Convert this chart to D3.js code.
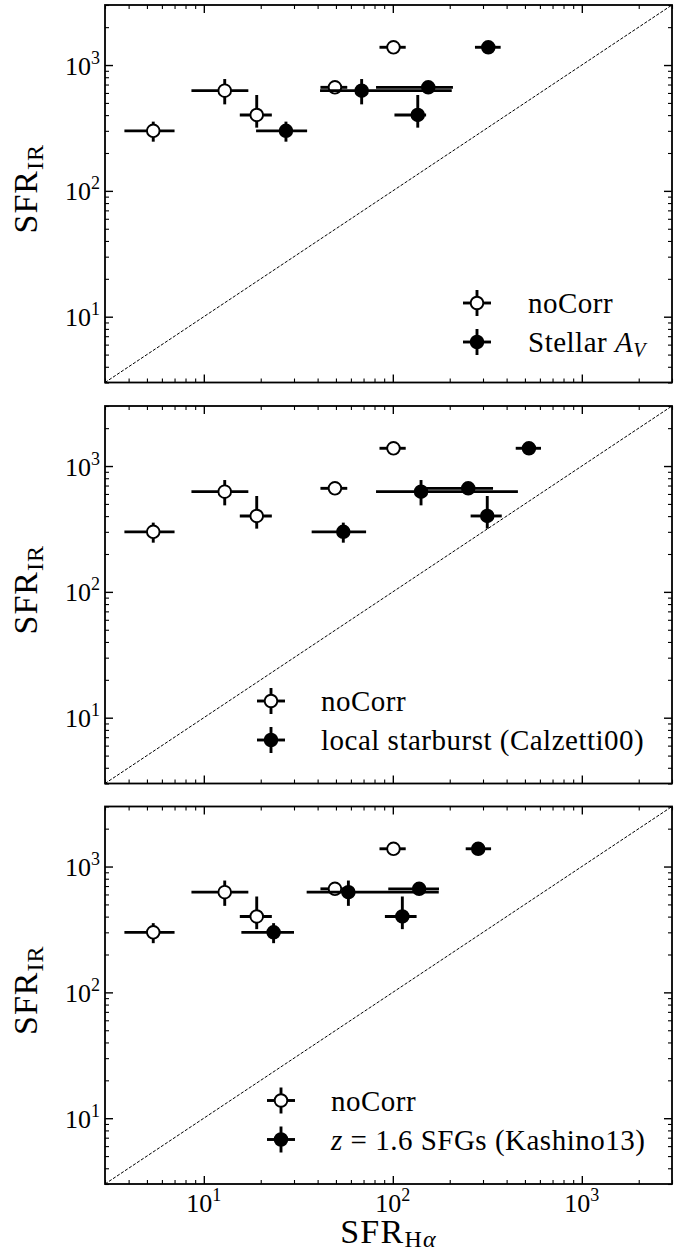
<!DOCTYPE html>
<html>
<head>
<meta charset="utf-8">
<script src="https://cdn.jsdelivr.net/npm/d3@7"></script>
<style>
  body { margin: 0; background: #fff; }
  svg text { font-family: "Liberation Serif", "Times New Roman", serif; fill: #000; }
</style>
</head>
<body>
<svg id="chart" width="692" height="1252"></svg>
<script>
// ---- data ----
var xTicks = [10, 100, 1000];
var yTicks = [10, 100, 1000];
var tickExp = {10: "1", 100: "2", 1000: "3"};

// SFR_IR of the five objects (shared by every panel)
var irVal = [300, 626, 401, 665, 1384];
var irLo  = [246, 487, 318, 615, 1330];
var irHi  = [355, 774, 578, 715, 1440];

// SFR_Halpha, no correction
var noCorrX  = [5.4, 12.9, 19.05, 49.4, 100.8];
var noCorrLo = [3.8, 8.6, 15.5, 41.4, 85];
var noCorrHi = [7.0, 17.2, 22.9, 57.4, 117];

// panel 1: stellar A_V
var stellarX  = [27.2, 68.4, 135.5, 154, 320];
var stellarLo = [18.9, 41.2, 102, 81.5, 272];
var stellarHi = [35.2, 205, 150, 208, 372];

// panel 2: local starburst (Calzetti00)
var calzX  = [54.7, 141, 316, 250.6, 525];
var calzLo = [37.2, 81.5, 258, 144.6, 447];
var calzHi = [72.2, 459, 377, 339, 608];

// panel 3: z=1.6 SFGs (Kashino13)
var kashX  = [23.4, 58.2, 112.3, 137.8, 283];
var kashLo = [15.8, 35, 90.8, 94.6, 243];
var kashHi = [30, 175, 133.6, 175.5, 331];

var svg = d3.select("#chart");

var margin = {left: 105},
    width = 567,
    height = 377.5,
    panelTops = [5, 406, 806.5];

var x = d3.scaleLog().domain([3, 3000]).range([0, width]);
var y = d3.scaleLog().domain([3, 3000]).range([height, 0]);

var minorX = x.ticks().filter(function(d) { return xTicks.indexOf(d) < 0; });
var minorY = y.ticks().filter(function(d) { return yTicks.indexOf(d) < 0; });

function rows(xs, lo, hi) {
  return xs.map(function(v, i) {
    return {x: v, xlo: lo[i], xhi: hi[i], y: irVal[i], ylo: irLo[i], yhi: irHi[i]};
  });
}

var panels = [
  {corr: rows(stellarX, stellarLo, stellarHi), legendX: 477, legendY: 298, textX: 528, label: "stellar"},
  {corr: rows(calzX, calzLo, calzHi), legendX: 271, legendY: 295, textX: 321, label: "calz"},
  {corr: rows(kashX, kashLo, kashHi), legendX: 281, legendY: 294, textX: 331, label: "kash"}
];
var noCorr = rows(noCorrX, noCorrLo, noCorrHi);

function addPow(sel, d) {
  sel.append("tspan").text("10");
  sel.append("tspan").attr("font-size", 18).attr("dy", -11).text(tickExp[d]);
}

function drawSeries(g, data, filled) {
  var s = g.append("g");
  s.selectAll("line.xe").data(data).enter().append("line")
    .attr("x1", function(d) { return x(d.xlo); })
    .attr("x2", function(d) { return x(d.xhi); })
    .attr("y1", function(d) { return y(d.y); })
    .attr("y2", function(d) { return y(d.y); })
    .attr("stroke", "#000").attr("stroke-width", 2.9);
  s.selectAll("line.ye").data(data).enter().append("line")
    .attr("x1", function(d) { return x(d.x); })
    .attr("x2", function(d) { return x(d.x); })
    .attr("y1", function(d) { return y(d.ylo); })
    .attr("y2", function(d) { return y(d.yhi); })
    .attr("stroke", "#000").attr("stroke-width", 2.9);
  s.selectAll("circle").data(data).enter().append("circle")
    .attr("cx", function(d) { return x(d.x); })
    .attr("cy", function(d) { return y(d.y); })
    .attr("r", 6.3)
    .attr("fill", filled ? "#000" : "#fff")
    .attr("stroke", "#000").attr("stroke-width", 1.9);
}

function legendMark(g, cx, cy, filled) {
  g.append("line").attr("x1", cx - 14).attr("x2", cx + 14).attr("y1", cy).attr("y2", cy)
    .attr("stroke", "#000").attr("stroke-width", 2.9);
  g.append("line").attr("x1", cx).attr("x2", cx).attr("y1", cy - 13).attr("y2", cy + 13)
    .attr("stroke", "#000").attr("stroke-width", 2.9);
  g.append("circle").attr("cx", cx).attr("cy", cy).attr("r", 6.3)
    .attr("fill", filled ? "#000" : "#fff").attr("stroke", "#000").attr("stroke-width", 1.9);
}

panels.forEach(function(p, pi) {
  var g = svg.append("g")
    .attr("transform", "translate(" + margin.left + "," + panelTops[pi] + ")");

  // one-to-one line
  g.append("line")
    .attr("x1", x(3)).attr("y1", y(3)).attr("x2", x(3000)).attr("y2", y(3000))
    .attr("stroke", "#000").attr("stroke-width", 1).attr("stroke-dasharray", "3.2,1.6");

  // axes: inward ticks on all four sides
  var axes = [
    {a: d3.axisBottom(x), t: "translate(0," + height + ")", minor: minorX, major: xTicks},
    {a: d3.axisTop(x), t: "translate(0,0)", minor: minorX, major: xTicks},
    {a: d3.axisLeft(y), t: "translate(0,0)", minor: minorY, major: yTicks},
    {a: d3.axisRight(y), t: "translate(" + width + ",0)", minor: minorY, major: yTicks}
  ];
  axes.forEach(function(ax) {
    g.append("g").attr("transform", ax.t)
      .call(ax.a.tickValues(ax.major).tickSize(-8).tickFormat(""))
      .call(function(s) { s.select(".domain").remove(); s.selectAll("line").attr("stroke-width", 1.4); });
    g.append("g").attr("transform", ax.t)
      .call(ax.a.tickValues(ax.minor).tickSize(-4).tickFormat(""))
      .call(function(s) { s.select(".domain").remove(); s.selectAll("line").attr("stroke-width", 1.1); });
  });

  drawSeries(g, noCorr, false);
  drawSeries(g, p.corr, true);

  // frame
  g.append("rect").attr("width", width).attr("height", height)
    .attr("fill", "none").attr("stroke", "#000").attr("stroke-width", 1.8);

  // y tick labels
  yTicks.forEach(function(d) {
    var t = g.append("text").attr("x", -5).attr("y", y(d) + 9.5)
      .attr("text-anchor", "end").attr("font-size", 26);
    addPow(t, d);
  });

  // y label
  var yl = g.append("text")
    .attr("transform", "translate(" + (37 - margin.left) + "," + (height / 2 - 5) + ") rotate(-90)")
    .attr("text-anchor", "middle").attr("font-size", 34).attr("letter-spacing", 1);
  yl.append("tspan").text("SFR");
  yl.append("tspan").attr("font-size", 24).attr("dy", 6).text("IR");

  // legend
  var lg = g.append("g");
  legendMark(lg, p.legendX - margin.left, p.legendY, false);
  legendMark(lg, p.legendX - margin.left, p.legendY + 39, true);
  var t1 = lg.append("text").attr("x", p.textX - margin.left).attr("y", p.legendY + 10)
    .attr("font-size", 29).attr("letter-spacing", 0.5).text("noCorr");
  var t2 = lg.append("text").attr("x", p.textX - margin.left).attr("y", p.legendY + 49)
    .attr("font-size", 29).attr("letter-spacing", 0.5);
  if (p.label === "stellar") {
    t2.append("tspan").text("Stellar ");
    t2.append("tspan").attr("font-style", "italic").text("A");
    t2.append("tspan").attr("font-style", "italic").attr("font-size", 20).attr("dy", 5).text("V");
  } else if (p.label === "calz") {
    t2.text("local starburst (Calzetti00)");
  } else {
    t2.append("tspan").attr("font-style", "italic").text("z");
    t2.append("tspan").text(" = 1.6 SFGs (Kashino13)");
  }

  // x tick labels on the bottom panel only
  if (pi === panels.length - 1) {
    xTicks.forEach(function(d) {
      var t = g.append("text").attr("x", x(d)).attr("y", height + 28)
        .attr("text-anchor", "middle").attr("font-size", 26);
      addPow(t, d);
    });
    var xl = g.append("text").attr("x", width / 2).attr("y", height + 58.5)
      .attr("text-anchor", "middle").attr("font-size", 34).attr("letter-spacing", 1.2);
    xl.append("tspan").text("SFR");
    xl.append("tspan").attr("font-size", 24).attr("dy", 4).text("H");
    xl.append("tspan").attr("font-size", 24).attr("font-style", "italic").text("α");
  }
});
</script>
</body>
</html>
